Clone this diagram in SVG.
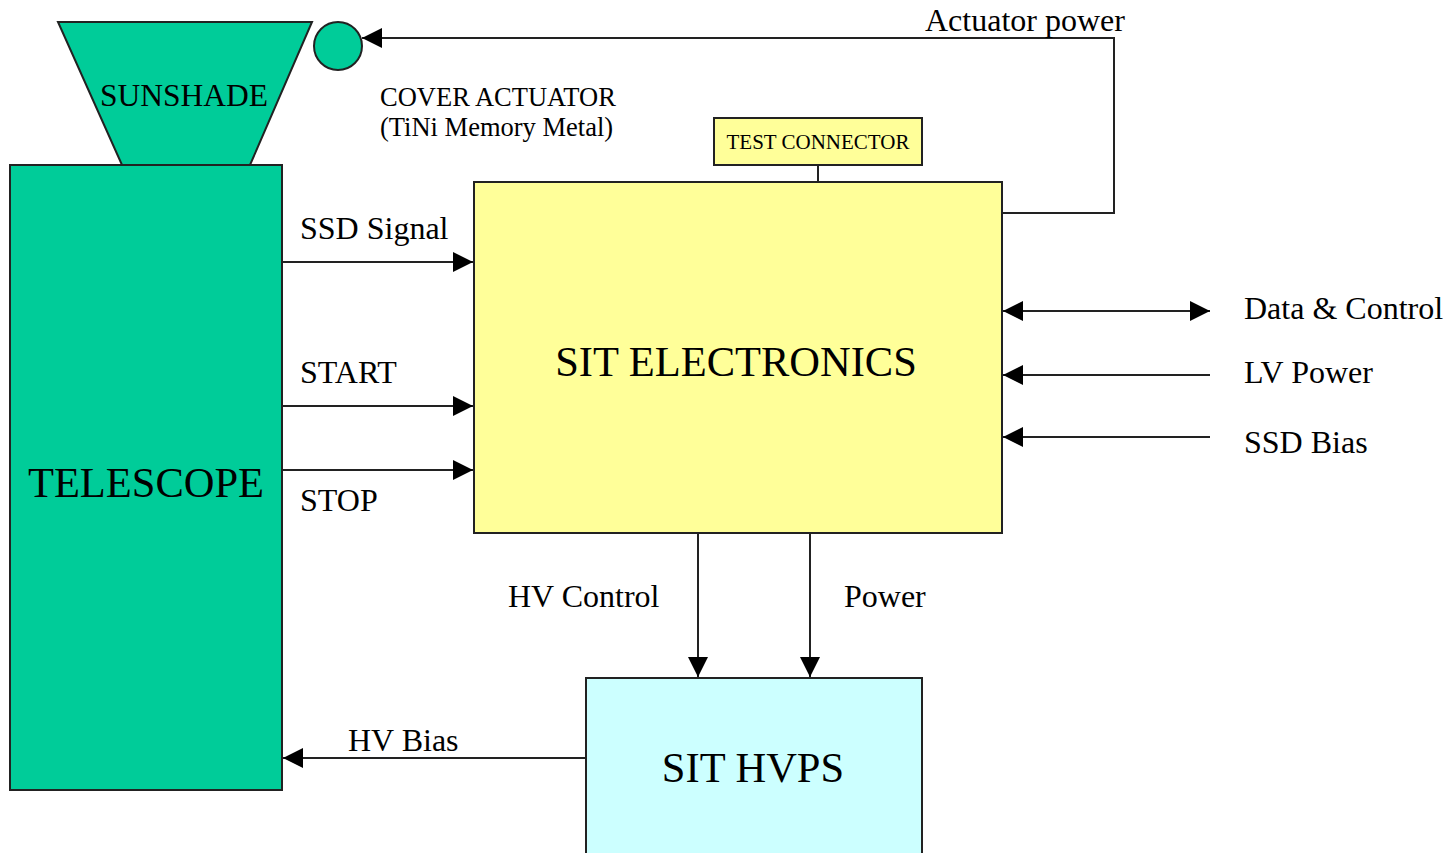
<svg xmlns="http://www.w3.org/2000/svg" width="1448" height="853" viewBox="0 0 1448 853">
<style>
text{font-family:"Liberation Serif","Times New Roman",serif;fill:#000}
.lbl{font-size:32px}
.big{font-size:42.5px;text-anchor:middle}
.box{stroke:#222;stroke-width:2}
.ln{stroke:#222;stroke-width:2;fill:none}
</style>
<defs>
<marker id="ah" viewBox="0 0 20 20" refX="20" refY="10" markerWidth="20" markerHeight="20" markerUnits="userSpaceOnUse" orient="auto-start-reverse">
<path d="M0,0 L20,10 L0,20 Z" fill="#000"/>
</marker>
</defs>
<rect width="1448" height="853" fill="#fff"/>
<g id="sunshade">
<polygon class="box" points="58,22 312,22 250,165 122,165" fill="#00CC99"/>
<text x="184" y="106" font-size="31.5" text-anchor="middle">SUNSHADE</text>
</g>
<g id="telescope">
<rect class="box" x="10" y="165" width="272" height="625" fill="#00CC99"/>
<text class="big" x="146" y="497">TELESCOPE</text>
</g>
<g id="cover-actuator">
<circle class="box" cx="338" cy="46" r="24" fill="#00CC99"/>
<text x="380" y="106" font-size="26.5">COVER ACTUATOR</text>
<text x="380" y="136" font-size="26.5">(TiNi Memory Metal)</text>
</g>
<g id="test-connector">
<rect class="box" x="714" y="118" width="208" height="47" fill="#FFFF99"/>
<text x="818" y="149" font-size="21" text-anchor="middle">TEST CONNECTOR</text>
</g>
<g id="sit-electronics">
<rect class="box" x="474" y="182" width="528" height="351" fill="#FFFF99"/>
<text class="big" x="736" y="376">SIT ELECTRONICS</text>
</g>
<g id="sit-hvps">
<rect class="box" x="586" y="678" width="336" height="185" fill="#CCFFFF"/>
<text class="big" x="753" y="782">SIT HVPS</text>
</g>
<g id="connectors">
<polyline class="ln" points="1002,213 1114,213 1114,38 362,38" marker-end="url(#ah)"/>
<line class="ln" x1="818" y1="165" x2="818" y2="182"/>
<line class="ln" x1="282" y1="262" x2="473" y2="262" marker-end="url(#ah)"/>
<line class="ln" x1="282" y1="406" x2="473" y2="406" marker-end="url(#ah)"/>
<line class="ln" x1="282" y1="470" x2="473" y2="470" marker-end="url(#ah)"/>
<line class="ln" x1="1003" y1="311" x2="1210" y2="311" marker-start="url(#ah)" marker-end="url(#ah)"/>
<line class="ln" x1="1210" y1="375" x2="1003" y2="375" marker-end="url(#ah)"/>
<line class="ln" x1="1210" y1="437" x2="1003" y2="437" marker-end="url(#ah)"/>
<line class="ln" x1="698" y1="533" x2="698" y2="677" marker-end="url(#ah)"/>
<line class="ln" x1="810" y1="533" x2="810" y2="677" marker-end="url(#ah)"/>
<line class="ln" x1="586" y1="758" x2="283" y2="758" marker-end="url(#ah)"/>
</g>
<g id="labels">
<text class="lbl" x="925" y="31">Actuator power</text>
<text class="lbl" x="300" y="239">SSD Signal</text>
<text class="lbl" x="300" y="383">START</text>
<text class="lbl" x="300" y="511">STOP</text>
<text class="lbl" x="1244" y="319">Data &amp; Control</text>
<text class="lbl" x="1244" y="383">LV Power</text>
<text class="lbl" x="1244" y="453">SSD Bias</text>
<text class="lbl" x="508" y="607">HV Control</text>
<text class="lbl" x="844" y="607">Power</text>
<text class="lbl" x="348" y="751">HV Bias</text>
</g>
</svg>
